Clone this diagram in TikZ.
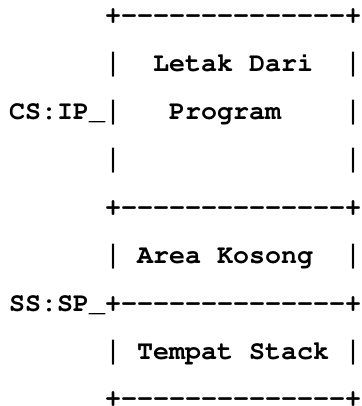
\documentclass[tikz,border=0pt]{standalone}
\usepackage{fontspec}
\usepackage[T1]{fontenc}
\newfontfamily\barfont{Liberation Mono}
\newcommand\cour{\fontencoding{T1}\fontfamily{pcr}\fontsize{26.67bp}{30bp}\selectfont}
\newcommand\boxrule{+-{}-{}-{}-{}-{}-{}-{}-{}-{}-{}-{}-{}-{}-{}+}
\tikzset{
  txt/.style={inner sep=0pt, outer sep=0pt, anchor=base west,
    font=\cour\bfseries},
  thin/.style={inner sep=0pt, outer sep=0pt, anchor=base west,
    font=\cour\mdseries},
  vbar/.style={inner sep=0pt, outer sep=0pt, anchor=base west,
    font=\barfont\fontsize{26.67bp}{30bp}\selectfont}
}
\begin{document}
\begin{tikzpicture}[x=1bp,y=-1bp]
\useasboundingbox[fill=white] (0,0) rectangle (362,406);
% row 0
\node[txt] (top) at (105,23) {\boxrule};
% row 1
\node[vbar] (l1a) at (105,71) {|};
\node[txt] (letak) at (153,71) {Letak Dari};
\node[vbar] (l1b) at (345,71) {|};
% row 2
\node[txt] (csip) at (9,119) {CS:IP};
\node[thin] (csu) at (89,119) {\_};
\node[vbar] (l2a) at (105,119) {|};
\node[txt] (prog) at (169,119) {Program};
\node[vbar] (l2b) at (345,119) {|};
% row 3
\node[vbar] (l3a) at (105,167) {|};
\node[vbar] (l3b) at (345,167) {|};
% row 4
\node[txt] (mid) at (105,215) {\boxrule};
% row 5
\node[vbar] (l5a) at (105,263) {|};
\node[txt] (area) at (137,263) {Area Kosong};
\node[vbar] (l5b) at (345,263) {|};
% row 6
\node[txt] (sssp) at (9,311) {SS:SP};
\node[thin] (ssu) at (89,311) {\_};
\node[txt] (sep) at (105,311) {\boxrule};
% row 7
\node[vbar] (l7a) at (105,359) {|};
\node[txt] (stack) at (137,359) {Tempat Stack};
\node[vbar] (l7b) at (345,359) {|};
% row 8
\node[txt, text depth=0pt] (bot) at (105,406) {\boxrule};
\end{tikzpicture}
\end{document}
